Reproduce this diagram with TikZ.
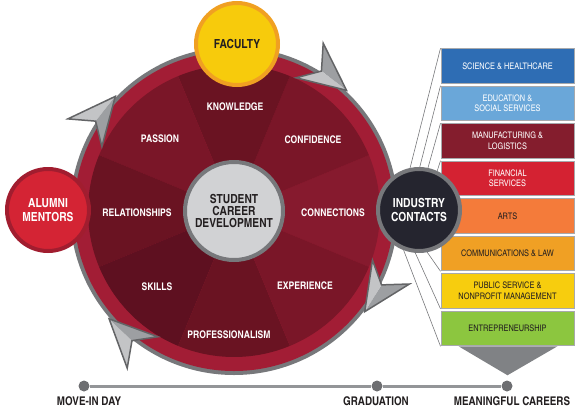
\documentclass[tikz,border=0pt]{standalone}
\usepackage{fontspec}
\setmainfont{texgyreheroscn}[Extension=.otf, UprightFont=*-regular, BoldFont=*-bold]
\usetikzlibrary{positioning}

\definecolor{ringgray}{HTML}{77787B}
\definecolor{ringred}{HTML}{A21D35}
\definecolor{wedgeA}{HTML}{6A1322}
\definecolor{wedgeB}{HTML}{7A1628}
\definecolor{wedgeC}{HTML}{861A2E}
\definecolor{wedgeD}{HTML}{5E1020}
\definecolor{arrowlight}{HTML}{C3C4C6}
\definecolor{arrowdark}{HTML}{9D9FA2}
\definecolor{arrowline}{HTML}{636466}
\definecolor{facfill}{HTML}{F7CB0C}
\definecolor{facline}{HTML}{F0A022}
\definecolor{alufill}{HTML}{D42434}
\definecolor{aluline}{HTML}{A11D2F}
\definecolor{indfill}{HTML}{25252F}
\definecolor{stufill}{HTML}{D1D2D4}
\definecolor{textdark}{HTML}{231F20}
\definecolor{boxline}{HTML}{A7A9AC}
\definecolor{sci}{HTML}{2E6DB4}
\definecolor{edu}{HTML}{6AA7D9}
\definecolor{manu}{HTML}{841D2D}
\definecolor{fin}{HTML}{D42232}
\definecolor{arts}{HTML}{F47B3A}
\definecolor{comm}{HTML}{F0A024}
\definecolor{pub}{HTML}{F7CD0E}
\definecolor{entre}{HTML}{8CC63F}
\definecolor{tri}{HTML}{808285}
\definecolor{dotgray}{HTML}{6D6E71}
\definecolor{linegray}{HTML}{939598}

\begin{document}
\begin{tikzpicture}[x=1pt, y=-1pt,
	hub/.style={circle, line width=4pt, minimum size=82pt, inner sep=0pt, align=center, font=\bfseries\fontsize{12.5}{14}\selectfont},
	spoke/.style={text=white, font=\bfseries\fontsize{10.5}{11}\selectfont},
	box/.style={draw=boxline, line width=1pt, minimum width=133pt, minimum height=34.5pt, inner sep=1pt, align=center, font=\fontsize{9}{10.5}\selectfont},
	fan/.style={draw=ringgray, line width=0.6pt},
	dot/.style={circle, fill=dotgray, minimum size=11pt, inner sep=0pt},
	stage/.style={text=textdark, font=\bfseries\fontsize{12}{13}\selectfont}]
	\useasboundingbox (0,0) rectangle (580,410);

	% the wheel
	\begin{scope}[shift={(234,211)}, y=1pt]
		\fill[ringgray] (0,0) circle[radius=164];
		\fill[ringred] (0,0) circle[radius=160];
		\foreach \a/\c in {0/wedgeC, 45/wedgeB, 90/wedgeA, 135/wedgeB, 180/wedgeA, 225/wedgeD, 270/wedgeA, 315/wedgeB}
			\fill[\c] (0,0) -- (\a-22.5:146) arc[start angle=\a-22.5, end angle=\a+22.5, radius=146] -- cycle;
		% arrow heads on the ring
		\foreach \t/\ca/\cb in {136/arrowlight/arrowdark, 47/arrowdark/arrowlight, -37.6/arrowdark/arrowlight, 220.8/arrowlight/arrowdark} {
			\fill[\ca] (\t:165) -- (\t+15:190) -- (\t+11:165) -- cycle;
			\fill[\cb] (\t:165) -- (\t+18:147) -- (\t+11:165) -- cycle;
			\draw[arrowline, line width=1.5pt, line join=miter] (\t:165) -- (\t+15:190) -- (\t+11:165) -- (\t+18:147) -- cycle;
		}
	\end{scope}

	\node[spoke] (know) at (235,107) {KNOWLEDGE};
	\node[spoke] (conf) at (313,140) {CONFIDENCE};
	\node[spoke] (conn) at (333,213) {CONNECTIONS};
	\node[spoke] (expe) at (305,286) {EXPERIENCE};
	\node[spoke] (prof) at (229,335) {PROFESSIONALISM};
	\node[spoke] (skil) at (157,287) {SKILLS};
	\node[spoke] (rela) at (137,213) {RELATIONSHIPS};
	\node[spoke] (pass) at (160,139) {PASSION};

	\node[hub, fill=stufill, draw=ringgray, text=textdark, minimum size=98pt, font=\bfseries\fontsize{12.5}{12}\selectfont] (stu) at (234,211) {STUDENT\\CAREER\\DEVELOPMENT};
	\node[hub, fill=facfill, draw=facline, text=textdark] (fac) at (237,44) {FACULTY};
	\node[hub, fill=alufill, draw=aluline, text=white] (alu) at (48,210) {ALUMNI\\MENTORS};

	% sectors
	\node[box, fill=sci, text=white] (b1) at (507.5,66) {SCIENCE \& HEALTHCARE};
	\node[box, fill=edu, text=white, below=2pt of b1] (b2) {EDUCATION \&\\SOCIAL SERVICES};
	\node[box, fill=manu, text=white, below=2pt of b2] (b3) {MANUFACTURING \&\\LOGISTICS};
	\node[box, fill=fin, text=white, below=2pt of b3] (b4) {FINANCIAL\\SERVICES};
	\node[box, fill=arts, text=textdark, below=2pt of b4] (b5) {ARTS};
	\node[box, fill=comm, text=textdark, below=2pt of b5] (b6) {COMMUNICATIONS \& LAW};
	\node[box, fill=pub, text=textdark, below=2pt of b6] (b7) {PUBLIC SERVICE \&\\NONPROFIT MANAGEMENT};
	\node[box, fill=entre, text=textdark, below=2pt of b7] (b8) {ENTREPRENEURSHIP};
	\fill[tri] ([xshift=-49pt]b8.south) -- ([xshift=50pt]b8.south) -- ([yshift=-29pt]b8.south) -- cycle;

	\node[hub, fill=indfill, draw=ringgray, text=white] (ind) at (419,210) {INDUSTRY\\CONTACTS};
	\path[fan]
		(ind.102) edge (b1.north west)
		(ind.89) edge (b2.north west)
		(ind.78) edge (b3.north west)
		(ind.65) edge (b4.north west)
		(ind.-79) edge (b6.south west)
		(ind.-95) edge (b7.south west)
		(ind.-111) edge (b8.south west)
	;

	% timeline
	\node[dot] (d1) at (84,386) {};
	\node[dot] (d2) at (377,386) {};
	\node[dot] (d3) at (507,386) {};
	\draw[linegray, line width=3pt] (d1) -- (d2) -- (d3);
	\node[stage, below=1pt of d1, xshift=5pt] (l1) {MOVE-IN DAY};
	\node[stage, below=1pt of d2, xshift=-1pt] (l2) {GRADUATION};
	\node[stage, below=1pt of d3, xshift=5pt] (l3) {MEANINGFUL CAREERS};
\end{tikzpicture}
\end{document}
